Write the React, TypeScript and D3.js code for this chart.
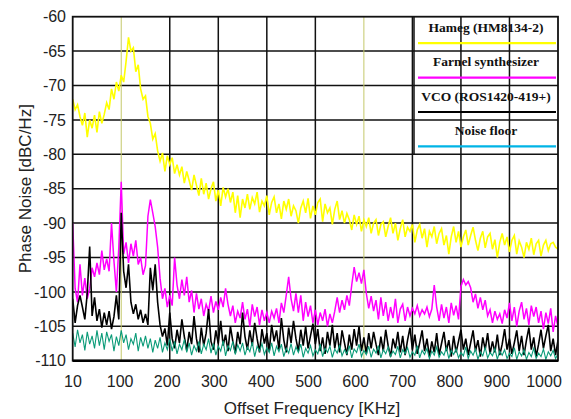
import * as d3 from 'd3';

// values every 5 kHz from 0 to 1000 kHz
const hameg = [
  -72, -73.5, -72.8, -74.5, -75.8, -74, -77.5, -75, -76.2, -74.3, -76.8,
  -73.8, -75.5, -74.2, -72.5, -73.5, -70.5, -72, -69.5, -70.8, -68.5,
  -69.5, -66.5, -63, -65, -64.5, -68, -67, -70.5, -72, -71.5,
  -74.5, -75.5, -77.8, -77, -79.5, -81, -79.8, -82.5, -80.2, -81.5,
  -80.5, -82.8, -81.5, -83, -81.8, -84.2, -82.5, -83.8, -85.2, -83,
  -84.5, -86, -83.5, -85.8, -84.2, -86.5, -85, -84, -86.8, -85.2,
  -87.5, -84.8, -86.2, -85, -87, -85.5, -88.5, -86, -89.2, -86.5,
  -87.8, -85.8, -88, -86.3, -87.2, -85.5, -88.4, -86.8, -87.5, -86,
  -88.8, -87, -86.2, -88.5, -87.2, -89.4, -86.8, -88, -86.5, -89,
  -87.5, -88.2, -90, -87.8, -86.8, -88.5, -86.4, -89.3, -87.5, -88.8,
  -87, -86.5, -89.8, -87.2, -88.5, -87.8, -90.2, -88, -86.8, -89.5,
  -88.2, -90, -88.6, -89.5, -91, -88.8, -90.2, -89, -91.2, -89.5,
  -90.5, -89.2, -91.5, -90, -89.5, -91.8, -90.2, -89.8, -92, -90.5,
  -89.2, -91.5, -90, -92.5, -90.8, -89.5, -92, -90.6, -91.2, -90.2,
  -92.8, -91, -90.2, -92.2, -90.8, -93.5, -91.2, -92, -90.5, -93,
  -91.5, -90.8, -93.2, -91.8, -94.5, -92, -90.5, -92.8, -91.2, -93.5,
  -92, -91, -93.2, -91.8, -90.6, -92.5, -94, -92.2, -91.2, -93.6,
  -92, -91.5, -93.8, -92.4, -95, -92.8, -91.5, -93.2, -92, -94.2,
  -92.5, -91.8, -94.5, -92.6, -93.5, -95, -92.8, -93.8, -92.2, -94.6,
  -93, -92.5, -94.8, -93.2, -92.5, -94, -93, -92.8, -93.5, -93.8,
];

const farnel = [
  -90, -99.5, -101.5, -96, -100.5, -98, -101, -99.5, -96.5, -97.8, -95.8,
  -97.5, -94, -96.8, -95.2, -97, -90, -95.5, -100, -93.5, -84,
  -94.5, -92.8, -95.8, -93, -94.8, -92.5, -96, -95, -97.5, -96.2,
  -89, -86.6, -88.5, -90.5, -93.5, -98, -101, -99.5, -102.2, -100.5,
  -102, -95, -99, -101, -98.2, -100.5, -97.8, -101.5, -99.8, -103,
  -100.2, -102.5, -101, -103.5, -101.8, -102.8, -100.6, -103, -101.4, -102.6,
  -100.8, -102.2, -99.5, -101.8, -103.5, -102, -104.5, -102.8, -103.8, -101.5,
  -104, -102.5, -105, -101.8, -103.6, -102.2, -104.8, -102.6, -104.2, -103,
  -104.5, -102.8, -103.8, -102.4, -104.5, -101.6, -103, -100.5, -97.8, -101,
  -102.8, -100.2, -103, -100.5, -104.2, -101.5, -103.6, -102, -104.5, -102.6,
  -104.8, -103, -104.2, -102.5, -105, -103.2, -104.5, -102.8, -100.8, -103,
  -101.2, -102.6, -100.5, -102, -99, -96.4, -98.5, -97.2, -98.8, -96.8,
  -100.2, -102.4, -100.6, -102.8, -101.2, -104, -100.8, -103.5, -101.5, -104.2,
  -102.2, -103.8, -101, -104.5, -102.5, -101.8, -104.2, -102.2, -103.5, -102.4,
  -103.2, -102, -103.5, -102.6, -103.2, -102.2, -103.6, -102.5, -99, -102.2,
  -104.2, -101.8, -103.8, -102.2, -104.5, -101.6, -103.4, -102, -104, -99.2,
  -98.2, -99, -98.5, -99.4, -101.5, -100.3, -102.4, -100.8, -102.6, -101.2,
  -103.5, -102.6, -104.5, -102.8, -104, -103.2, -104.6, -102.6, -103.8, -101.6,
  -104.2, -102.2, -105, -102.8, -101.5, -104, -102.4, -104.8, -102, -103.6,
  -102.2, -104.5, -102.8, -105.4, -103, -104.6, -102.4, -105.8, -103.5, -105,
];

const vco = [
  -101, -104.5, -102, -100.5, -102.2, -104, -100.2, -93.4, -103.5, -100.8, -104.2,
  -102.5, -105.2, -103, -104.8, -102.8, -105.4, -103.6, -100.5, -104, -88.5,
  -97, -99.4, -96, -101.5, -103.2, -101.8, -104, -102.6, -104.5, -103.2,
  -104.8, -96.5, -99.8, -96, -101.5, -104.8, -106.5, -105.3, -107.8, -103,
  -106.8, -108.2, -105.5, -107.4, -104, -106.5, -108.5, -105.8, -107.6, -103.5,
  -106.8, -108.8, -105.2, -107.8, -106, -102.5, -107.2, -108.4, -105.6, -107.5,
  -104.2, -107.8, -106.2, -108.6, -105, -107.2, -108.9, -105.8, -107.6, -103,
  -106.5, -108.4, -105.6, -107.8, -104.5, -106.8, -108.8, -105.4, -107.5, -106,
  -108.6, -104.8, -107.2, -105.6, -108.4, -103.8, -107, -108.8, -105.2, -107.4,
  -104.2, -106.8, -108.6, -105.5, -107.8, -105, -108.2, -106.4, -104.6, -107.6,
  -105.4, -108.6, -106.6, -109, -105.8, -107.8, -104.8, -108.2, -106, -108.8,
  -105.6, -107.4, -109.2, -106.2, -108.4, -105.4, -107.8, -105, -108.6, -106.6,
  -109, -106, -108.2, -105.8, -107.6, -109.2, -106.5, -108.6, -105.5, -107.8,
  -109.4, -106.8, -108.2, -105.8, -108.8, -106.4, -109.2, -107, -105.2, -108.4,
  -106.2, -109, -107.4, -105.6, -108.6, -106.8, -109.4, -107.2, -108.8, -106,
  -109.2, -107.5, -105.8, -108.6, -107, -109.4, -106.4, -108.8, -107.2, -105.5,
  -108.4, -106.8, -109.2, -107.4, -105.6, -108.6, -107, -109.4, -106.6, -108.4,
  -106, -109, -107.2, -108.8, -106.2, -109.2, -107.6, -105.4, -108.4, -106.8,
  -109, -107.4, -105.6, -108.6, -106.4, -109.2, -107, -105.2, -108.4, -106.6,
  -109.4, -107.6, -105.5, -108.2, -106.4, -104.8, -108.6, -106.8, -109.2, -107,
];

const noiseFloor = [
  -106, -108, -105.5, -107.4, -106.2, -108.5, -105.8, -107.6, -106.4, -108.2, -105.6,
  -107.8, -106, -108.4, -105.8, -107.2, -106.2, -108.6, -106.5, -107.8, -105.6,
  -107.4, -106.2, -108.4, -106.8, -107.6, -106, -108.6, -106.6, -107.9, -106.4,
  -108.2, -106.8, -108.8, -107, -108.2, -106.6, -108.8, -107.4, -108.4, -106.8,
  -108.6, -107.2, -109, -107.6, -108.4, -106.9, -108.8, -107.4, -109.2, -107.8,
  -108.6, -107.2, -109, -107.6, -108.4, -106.8, -108.9, -107.5, -109.2, -107.9,
  -108.6, -107.1, -109.3, -107.8, -108.5, -107.2, -109.1, -107.7, -108.6, -107.4,
  -109.2, -108, -108.7, -107.3, -109.4, -107.9, -108.6, -107.5, -109.1, -108.1,
  -108.8, -107.4, -109.3, -107.9, -108.7, -107.6, -109.4, -108.2, -108.9, -107.5,
  -109.2, -108, -108.8, -107.6, -109.5, -108.2, -108.9, -107.8, -109.3, -108.4,
  -109, -107.6, -109.4, -108.2, -108.8, -107.9, -109.5, -108.3, -108.9, -107.7,
  -109.3, -108.4, -109, -107.8, -109.6, -108.3, -108.8, -107.6, -109.4, -108.5,
  -109.1, -107.9, -109.5, -108.3, -108.9, -107.8, -109.6, -108.4, -109, -108,
  -109.4, -108.6, -109.1, -107.9, -109.6, -108.4, -109, -108.1, -109.5, -108.7,
  -109.2, -107.8, -109.6, -108.5, -109.1, -108.2, -109.7, -108.6, -109.2, -108,
  -109.5, -108.7, -109.2, -108.1, -109.7, -108.5, -109.1, -108.3, -109.6, -108.8,
  -109.3, -108, -109.7, -108.6, -109.2, -108.3, -109.8, -108.7, -109.3, -108.1,
  -109.6, -108.8, -109.3, -108.2, -109.8, -108.6, -109.2, -108.4, -109.7, -108.9,
  -109.4, -108.1, -109.8, -108.7, -109.3, -108.4, -109.8, -108.8, -109.4, -108.2,
  -109.7, -108.9, -109.4, -108.3, -109.8, -108.7, -109.3, -108.5, -109.7, -109,
];

const STEP_KHZ = 5;

const xTickValues = [0, 100, 200, 300, 400, 500, 600, 700, 800, 900, 1000];
const xTickLabels = ['10', '100', '200', '300', '400', '500', '600', '700', '800', '900', '1000'];
const yTickValues = [-60, -65, -70, -75, -80, -85, -90, -95, -100, -105, -110];
const olivePositions = [100, 600];

const legendItems = [
  { label: 'Hameg (HM8134-2)', color: '#ffff00' },
  { label: 'Farnel synthesizer', color: '#ff00ff' },
  { label: 'VCO (ROS1420-419+)', color: '#000000' },
  { label: 'Noise floor', color: '#00b4e6' },
];

const W = 571;
const H = 419;
const left = 72.7;
const right = 558;
const top = 16.7;
const bottom = 360.7;

export default function App() {
  const x = d3.scaleLinear().domain([0, 1000]).range([left, right]);
  const y = d3.scaleLinear().domain([-110, -60]).range([bottom, top]);
  // the printed tick labels sit slightly compressed against the grid
  const xLabel = d3.scaleLinear().domain([0, 1000]).range([73, 544]);

  const line = d3
    .line<number>()
    .x((_, i) => x(i * STEP_KHZ))
    .y((d) => y(d));

  const series = [
    { data: hameg, color: '#ffff00', width: 1.6 },
    { data: farnel, color: '#ff00ff', width: 1.5 },
    { data: vco, color: '#000000', width: 1.6 },
    { data: noiseFloor, color: '#0a9b78', width: 1.1 },
  ];

  const legendLeft = 414;
  const legendBottom = y(-80);

  return (
    <svg
      width={W}
      height={H}
      style={{ position: 'absolute', left: 0, top: 0, background: '#fff' }}
      fontFamily="'Liberation Sans', Arial, sans-serif"
    >
      <defs>
        <clipPath id="plot">
          <rect x={left} y={top} width={right - left} height={bottom - top} />
        </clipPath>
      </defs>

      {/* grid */}
      {yTickValues.slice(1, -1).map((v) => (
        <line key={'h' + v} x1={left} x2={right} y1={y(v)} y2={y(v)} stroke="#111" strokeWidth={1.5} />
      ))}
      {xTickValues.slice(1, -1).map((v) => (
        <line
          key={'v' + v}
          x1={x(v)}
          x2={x(v)}
          y1={top}
          y2={bottom}
          stroke={olivePositions.includes(v) ? '#c4c86a' : '#111'}
          strokeWidth={olivePositions.includes(v) ? 1 : 1.5}
        />
      ))}

      {/* traces */}
      <g clipPath="url(#plot)">
        {series.map((s) => (
          <path
            key={s.color}
            d={line(s.data) || ''}
            fill="none"
            stroke={s.color}
            strokeWidth={s.width}
            strokeLinejoin="miter"
          />
        ))}
      </g>

      {/* legend */}
      <line x1={legendLeft} x2={legendLeft} y1={top} y2={legendBottom} stroke="#111" strokeWidth={1.5} />
      {legendItems.map((d, i) => {
        const rowTop = top + i * (legendBottom - top) / 4;
        return (
          <g key={d.label}>
            <text
              x={486}
              y={rowTop + 15}
              textAnchor="middle"
              fontFamily="'Liberation Serif', 'Times New Roman', serif"
              fontWeight="bold"
              fontSize={13.5}
              fill="#111"
            >
              {d.label}
            </text>
            <line x1={418} x2={556} y1={rowTop + 26.5} y2={rowTop + 26.5} stroke={d.color} strokeWidth={2.2} />
          </g>
        );
      })}

      {/* frame */}
      <rect x={left} y={top} width={right - left} height={bottom - top} fill="none" stroke="#111" strokeWidth={1.8} />
      <line x1={left} x2={right} y1={bottom} y2={bottom} stroke="#000" strokeWidth={2.6} />

      {/* axis labels */}
      {yTickValues.map((v) => (
        <text key={'yl' + v} x={66} y={y(v)} dy="0.35em" textAnchor="end" fontSize={16} fill="#222">
          {v}
        </text>
      ))}
      {xTickValues.map((v, i) => (
        <text key={'xl' + v} x={xLabel(v)} y={387} textAnchor="middle" fontSize={16} fill="#222">
          {xTickLabels[i]}
        </text>
      ))}

      <text x={312} y={414} textAnchor="middle" fontSize={17} fill="#222">
        Offset Frequency [KHz]
      </text>
      <text
        transform={`translate(31, ${(top + bottom) / 2}) rotate(-90)`}
        textAnchor="middle"
        fontSize={17}
        fill="#222"
      >
        Phase Noise [dBC/Hz]
      </text>
    </svg>
  );
}
